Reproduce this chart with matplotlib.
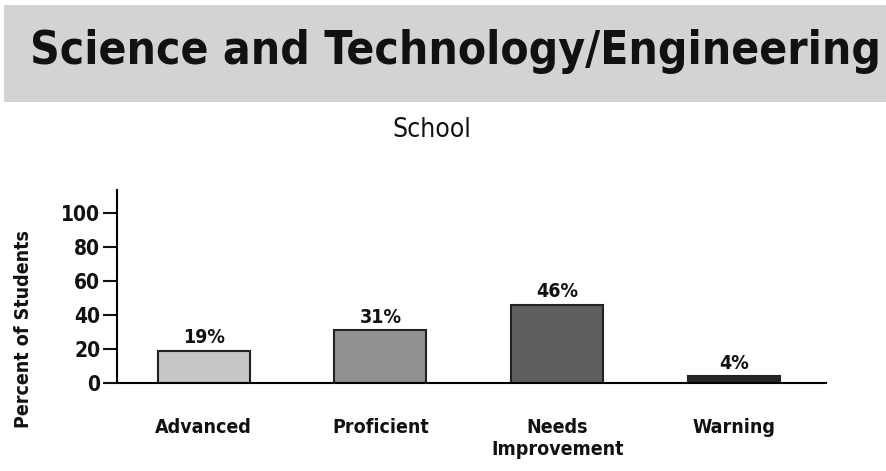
import matplotlib
matplotlib.use('Agg')
import matplotlib.pyplot as plt
from matplotlib.patches import Rectangle

categories = ['Advanced', 'Proficient', 'Needs\nImprovement', 'Warning']
values = [19, 31, 46, 4]
labels = ['19%', '31%', '46%', '4%']
colors = ['#c6c6c6', '#919191', '#5e5e5e', '#262626']
yticks = [0, 20, 40, 60, 80, 100]

plt.rcParams['font.family'] = ['DejaVu Sans']
plt.rcParams['font.stretch'] = 'condensed'
plt.rcParams['font.weight'] = 'bold'
plt.rcParams['text.color'] = '#111111'

fig = plt.figure(figsize=(8.86, 4.71), dpi=100)

# banner
fig.patches.append(Rectangle((4 / 886, 1 - 102 / 471), 1, 97 / 471,
                             transform=fig.transFigure, facecolor='#d3d3d3',
                             edgecolor='none', zorder=0))
title = fig.text(30 / 886, 1 - 52 / 471, 'Science and Technology/Engineering',
                 fontsize=38, fontweight='bold', va='center', ha='left')
fig.text(432 / 886, 1 - 130 / 471, 'School', fontsize=19, fontweight='normal',
         ha='center', va='center')

# shrink title to fit the banner width
r = fig.canvas.get_renderer()
w = title.get_window_extent(r).width
title.set_fontsize(38 * 850 / w)

ax = fig.add_axes([117 / 886, 1 - 383 / 471, 709 / 886, 193 / 471])
x = range(len(categories))
ax.bar(x, values, width=0.52, color=colors, edgecolor='#222222', linewidth=1.5)
for xi, v, t in zip(x, values, labels):
    ax.text(xi, v + 2, t, ha='center', va='bottom', fontsize=14)

ax.set_xlim(-0.49, 3.52)
ax.set_ylim(0, 113.5)
ax.set_yticks(yticks)
ax.set_xticks(list(x))
ax.set_xticklabels(categories, fontsize=14, linespacing=1.2)
ax.tick_params(axis='x', length=0, pad=25, colors='#111111')
ax.tick_params(axis='y', length=10, width=1.5, labelsize=15, pad=2, colors='#111111')
for s in ['top', 'right']:
    ax.spines[s].set_visible(False)
ax.spines['left'].set_linewidth(1.5)
ax.spines['bottom'].set_linewidth(1.5)

fig.text(24 / 886, 1 - 329 / 471, 'Percent of Students', rotation=90,
         fontsize=14, ha='center', va='center')

fig.savefig('out.png', dpi=100)
